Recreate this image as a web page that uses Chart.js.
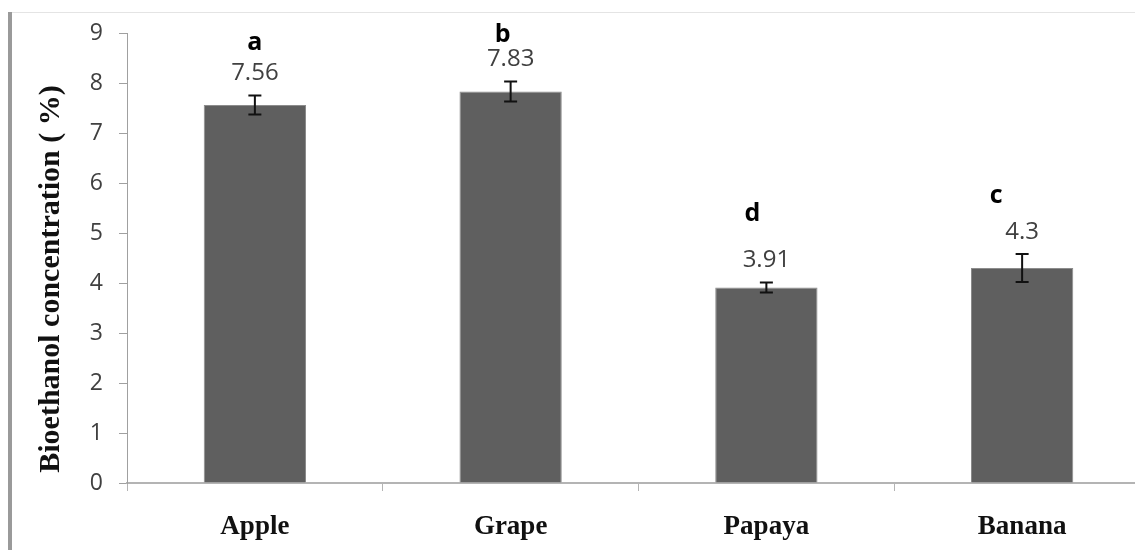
<!DOCTYPE html>
<html>
<head>
<meta charset="utf-8">
<script src="https://cdn.jsdelivr.net/npm/chart.js@4.4.1/dist/chart.umd.min.js"></script>
<style>
  html, body { margin: 0; padding: 0; background: #fff; overflow: hidden; width: 1135px; height: 550px; }
  #wrap { position: relative; width: 1135px; height: 550px; overflow: hidden; }
  #c { position: absolute; left: 0; top: 0; }
  #leftbar { position: absolute; left: 8px; top: 12px; width: 4px; height: 538px; background: #9a9a9a; }
  #topline { position: absolute; left: 12px; top: 12px; width: 1123px; height: 1px; background: #e4e4e4; }
</style>
</head>
<body>
<div id="wrap">
  <canvas id="c" width="1150" height="550"></canvas>
  <div id="leftbar"></div>
  <div id="topline"></div>
</div>
<script>
// ---- data ----
const categories = ["Apple", "Grape", "Papaya", "Banana"];
const concentrations = [7.56, 7.83, 3.91, 4.3];
const errors = [0.19, 0.2, 0.1, 0.28];
const valueLabels = ["7.56", "7.83", "3.91", "4.3"];
const groupLetters = ["a", "b", "d", "c"];
const yTicks = [0, 1, 2, 3, 4, 5, 6, 7, 8, 9];
const yTitle = "Bioethanol concentration ( %)";

// ---- layout (pixel nudges for the letter annotations) ----
const letterDx = [0, -8, -14, -26];
const letterDy = [-31, -25, -47, -36];

const annotatePlugin = {
  id: 'annotate',
  afterDatasetsDraw(chart) {
    const ctx = chart.ctx;
    const x = chart.scales.x, y = chart.scales.y;
    ctx.save();
    concentrations.forEach((v, i) => {
      const cx = x.getPixelForValue(i);
      const top = y.getPixelForValue(v + errors[i]);
      const bot = y.getPixelForValue(v - errors[i]);
      ctx.strokeStyle = '#111';
      ctx.lineWidth = 2;
      ctx.beginPath();
      ctx.moveTo(cx, top); ctx.lineTo(cx, bot);
      ctx.moveTo(cx - 6.5, top); ctx.lineTo(cx + 6.5, top);
      ctx.moveTo(cx - 6.5, bot); ctx.lineTo(cx + 6.5, bot);
      ctx.stroke();
      ctx.fillStyle = '#404040';
      ctx.font = '24px "Open Sans"';
      ctx.textAlign = 'center';
      ctx.textBaseline = 'middle';
      const ly = top - 22;
      ctx.fillText(valueLabels[i], cx, ly);
      ctx.fillStyle = '#000';
      ctx.font = 'bold 25px "Open Sans"';
      ctx.fillText(groupLetters[i], cx + letterDx[i], ly + letterDy[i]);
    });
    // y axis title
    ctx.save();
    ctx.translate(51, y.getPixelForValue(4) - 4);
    ctx.rotate(-Math.PI / 2);
    ctx.fillStyle = '#111';
    ctx.font = 'bold 30px "Liberation Serif", "Times New Roman", serif';
    ctx.textAlign = 'center';
    ctx.textBaseline = 'middle';
    ctx.fillText(yTitle, 0, 0);
    ctx.restore();
    ctx.restore();
  }
};

new Chart(document.getElementById('c'), {
  type: 'bar',
  data: {
    labels: categories,
    datasets: [{
      data: concentrations,
      backgroundColor: '#5f5f5f',
      borderColor: '#8c8c8c',
      borderWidth: 1,
      barPercentage: 0.4,
      categoryPercentage: 1.0
    }]
  },
  options: {
    responsive: false,
    animation: false,
    devicePixelRatio: 1,
    layout: { padding: { left: 36, top: 33, right: 0, bottom: 0 } },
    plugins: { legend: { display: false }, tooltip: { enabled: false } },
    scales: {
      x: {
        offset: true,
        afterFit(s) { s.height = 67; },
        border: { display: true, color: '#b4b4b4', width: 2 },
        grid: { display: true, drawOnChartArea: false, drawTicks: true, tickLength: 8, color: '#b4b4b4', offset: true },
        ticks: {
          padding: 20,
          color: '#111',
          font: { family: '"Liberation Serif", "Times New Roman", serif', size: 27, weight: 'bold' }
        }
      },
      y: {
        min: 0, max: 9,
        afterFit(s) { s.width = 91; },
        afterBuildTicks(s) { s.ticks = yTicks.map(v => ({ value: v })); },
        border: { display: true, color: '#a0a0a0', width: 1 },
        grid: { display: true, drawOnChartArea: false, drawTicks: true, tickLength: 8, color: '#a0a0a0' },
        ticks: {
          padding: 16,
          color: '#404040',
          font: { family: '"Open Sans", sans-serif', size: 23 }
        },
        title: { display: false }
      }
    }
  },
  plugins: [annotatePlugin]
});
</script>
</body>
</html>
